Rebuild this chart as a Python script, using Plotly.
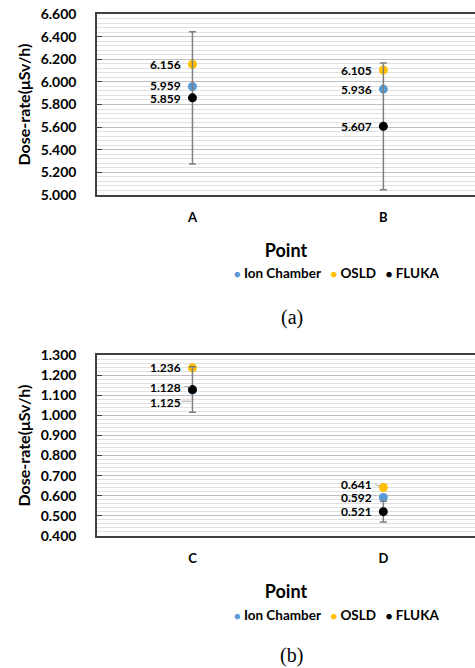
import plotly.graph_objects as go

# ---- data ----
cats_a = ["A", "B"]
ion_a = [5.959, 5.936]
osld_a = [6.156, 6.105]
fluka_a = [5.859, 5.607]
fluka_err_a = [0.585, 0.56]

cats_b = ["C", "D"]
ion_b = [1.125, 0.592]
osld_b = [1.236, 0.641]
fluka_b = [1.128, 0.521]
fluka_err_b = [0.113, 0.052]

series_names = ["Ion Chamber", "OSLD", "FLUKA"]
colors = ["#5B9BD5", "#FFC000", "#000000"]

W, H = 475, 668
FONT = "Lato"

fig = go.Figure()

def py(p):  # pixel from top -> paper fraction
    return 1 - p / H

def px(p):  # pixel from left -> paper fraction
    return p / W

def add_panel(idx, cats, ion, osld, fluka, err):
    xa = "x" if idx == 1 else "x2"
    ya = "y" if idx == 1 else "y2"
    vals = [ion, osld, fluka]
    for name, col, v in zip(series_names, colors, vals):
        kw = {}
        if name == "FLUKA":
            kw["error_y"] = dict(type="data", array=err, visible=True,
                                 color="#7f7f7f", thickness=1.5, width=3.5)
        fig.add_trace(go.Scatter(x=cats, y=v, mode="markers", name=name,
                                 marker=dict(color=col, size=9),
                                 xaxis=xa, yaxis=ya, showlegend=False, **kw))

add_panel(1, cats_a, ion_a, osld_a, fluka_a, fluka_err_a)
add_panel(2, cats_b, ion_b, osld_b, fluka_b, fluka_err_b)

axis_line = dict(showline=True, linecolor="#404040", linewidth=1.5, automargin=False)
common_x = dict(type="category", range=[-0.5, 1.48], mirror=True, ticks="",
                showgrid=False, zeroline=False, ticklabelstandoff=10,
                tickfont=dict(family=FONT, size=13, color="#000", weight="bold"),
                title=dict(text="Point", standoff=20,
                           font=dict(family=FONT, size=18, color="#000", weight="bold")),
                **axis_line)
common_y = dict(showgrid=True, gridcolor="#bfbfbf", gridwidth=1, zeroline=False,
                ticks="inside", ticklen=5, tickcolor="#404040", tickformat=".3f",
                ticklabelstandoff=16, ticklabeloverflow="allow",
                tickfont=dict(family=FONT, size=14, color="#000", weight="bold"),
                title=dict(text="Dose-rate(μSv/h)", standoff=6,
                           font=dict(family=FONT, size=16, color="#000", weight="bold")),
                **axis_line)

fig.update_layout(
    width=W, height=H, margin=dict(l=97, r=0, t=0, b=0, autoexpand=False),
    paper_bgcolor="white", plot_bgcolor="white",
    xaxis=dict(domain=[0, 1], anchor="y", **common_x),
    yaxis=dict(domain=[py(195), py(14)], anchor="x", range=[5.0, 6.6], dtick=0.2,
               minor=dict(dtick=0.04, showgrid=True, gridcolor="#e0e0e0", gridwidth=1),
               **common_y),
    xaxis2=dict(domain=[0, 1], anchor="y2", **common_x),
    yaxis2=dict(domain=[py(536), py(355)], anchor="x2", range=[0.4, 1.3], dtick=0.1,
                minor=dict(dtick=0.02, showgrid=True, gridcolor="#e0e0e0", gridwidth=1),
                **common_y),
    showlegend=False,
)

# data labels
label_font = dict(family=FONT, size=12, color="#000", weight="bold")
def add_labels(xa, ya, cats, vals, yshifts):
    for c, v, ys in zip(cats, vals, yshifts):
        fig.add_annotation(x=c, y=v, xref=xa, yref=ya, text=f"{v:.3f}",
                           showarrow=False, xanchor="right", yanchor="middle",
                           xshift=-9, yshift=ys, font=label_font)

add_labels("x", "y", cats_a, ion_a, [1, 0])
add_labels("x", "y", cats_a, osld_a, [0, 0])
add_labels("x", "y", cats_a, fluka_a, [-1, 0])
add_labels("x2", "y2", cats_b, ion_b, [-12, 0])
add_labels("x2", "y2", cats_b, osld_b, [0, 3])
add_labels("x2", "y2", cats_b, fluka_b, [2, 0])

# leader lines (pixel-sized, anchored to data points)
def leader(xa, ya, xi, yv, x0, x1, y0, y1):
    fig.add_shape(type="line", xref=xa, yref=ya, xsizemode="pixel", ysizemode="pixel",
                  xanchor=xi, yanchor=yv, x0=x0, x1=x1, y0=y0, y1=y1,
                  line=dict(color="#a6a6a6", width=1))

leader("x2", "y2", 0, ion_b[0], -11, -1, -11, -11)
leader("x2", "y2", 0, fluka_b[0], -8, -2, 3, 3)
leader("x2", "y2", 1, osld_b[1], -8, -3, 3, 1)

# legends as text rows
def legend_row(ypx):
    parts = []
    for n, c in zip(series_names, colors):
        parts.append(f"<span style='color:{c};font-size:11px'>●</span> {n}")
    fig.add_annotation(x=px(301), y=py(ypx), xref="paper", yref="paper",
                       text="&nbsp;&nbsp;&nbsp;".join(parts), showarrow=False,
                       xanchor="center", yanchor="middle",
                       font=dict(family=FONT, size=13.5, color="#000", weight="bold"))

legend_row(273)
legend_row(615)

for t, ypx in [("(a)", 317), ("(b)", 655)]:
    fig.add_annotation(x=px(245), y=py(ypx), xref="paper", yref="paper", text=t,
                       showarrow=False, xanchor="center", yanchor="middle",
                       font=dict(family="Liberation Serif", size=20, color="#000"))

# remove the browser's default 8px page margin so the figure fills the window exactly
fig.write_html("out.html", config={"displayModeBar": False},
               post_script="document.body.style.margin='0';document.body.style.overflow='hidden';")
